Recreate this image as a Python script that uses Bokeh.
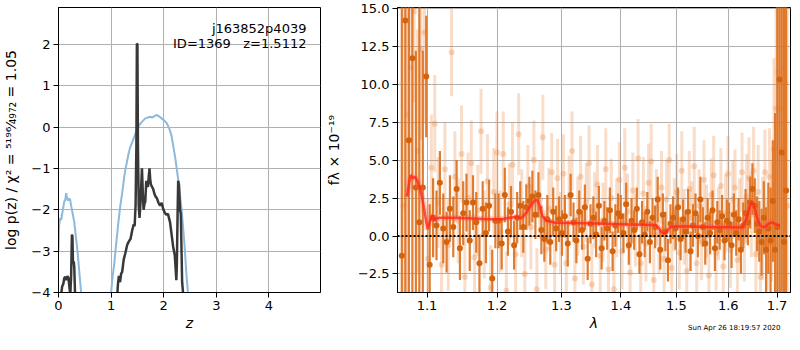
import numpy as np
from bokeh.plotting import figure
from bokeh.layouts import row
from bokeh.models import Range1d, FixedTicker, PrintfTickFormatter, Label, ColumnDataSource, Title
from bokeh.embed import file_html
from bokeh.resources import INLINE

FONT = "DejaVu Sans"

# ---------------- left panel: log p(z) ----------------
blue1_z = [0.0, 0.01, 0.03, 0.05, 0.07, 0.09, 0.11, 0.13, 0.145, 0.16, 0.18, 0.20, 0.22, 0.24,
           0.27, 0.30, 0.33, 0.365, 0.395, 0.43, 0.44]
blue1_v = [-3.0, -2.4, -2.2, -2.25, -2.1, -1.95, -1.8, -1.75, -1.6, -1.7, -1.78, -1.73, -1.75, -1.9,
           -2.1, -2.3, -2.65, -3.05, -3.5, -4.0, -4.2]
blue2_z = [0.99, 1.0, 1.03, 1.06, 1.09, 1.13, 1.17, 1.21, 1.25, 1.275, 1.30, 1.33, 1.36, 1.40, 1.45,
           1.52, 1.58, 1.65, 1.70, 1.74, 1.78, 1.83, 1.87, 1.91, 1.96, 2.01, 2.06, 2.11, 2.15,
           2.18, 2.22, 2.27, 2.34, 2.39, 2.43, 2.46, 2.47]
blue2_v = [-4.2, -4.0, -3.6, -3.3, -2.9, -2.4, -1.95, -1.6, -1.2, -1.0, -0.85, -0.65, -0.5, -0.37, -0.2,
           0.02, 0.12, 0.21, 0.23, 0.25, 0.23, 0.27, 0.29, 0.26, 0.21, 0.16, 0.09, -0.05, -0.22,
           -0.45, -0.75, -1.22, -1.99, -2.76, -3.53, -4.0, -4.2]
black1_z = [0.05, 0.07, 0.09, 0.11, 0.13, 0.15, 0.17, 0.19, 0.21, 0.225, 0.24, 0.255, 0.265,
            0.275, 0.29, 0.30, 0.315]
black1_v = [-4.05, -3.85, -3.8, -3.65, -3.62, -3.7, -3.6, -3.65, -3.9, -4.05, -3.6, -2.6, -2.65,
            -3.3, -3.25, -3.4, -4.05]
black2_z = [1.117, 1.13, 1.147, 1.17, 1.19, 1.21, 1.24, 1.27, 1.305, 1.335, 1.37, 1.40, 1.43, 1.447,
            1.465, 1.48, 1.49, 1.50, 1.51, 1.525, 1.54, 1.56, 1.586, 1.60, 1.617, 1.635, 1.65,
            1.668, 1.685, 1.70, 1.715, 1.73, 1.745, 1.76, 1.78, 1.80, 1.82, 1.84, 1.87, 1.90, 1.93,
            1.96, 1.99, 2.02, 2.05, 2.08, 2.12, 2.15, 2.18, 2.21, 2.24, 2.25, 2.265, 2.275, 2.29,
            2.31, 2.325, 2.35, 2.37]
black2_v = [-4.05, -3.8, -3.6, -3.75, -3.55, -3.5, -3.2, -3.05, -2.85, -2.77, -2.7, -2.5, -2.35, -2.4,
            -1.9, -0.5, 2.02, 2.0, -0.5, -1.9, -2.2, -1.8, -1.0, -1.5, -2.0, -1.85, -1.8,
            -1.3, -1.4, -1.45, -1.2, -1.0, -1.3, -1.4, -1.45, -1.5, -1.6, -1.67, -1.72, -1.83, -1.9,
            -1.83, -1.98, -2.07, -2.12, -2.1, -2.3, -2.6, -2.9, -3.1, -3.7, -3.3, -2.0, -1.3, -1.4,
            -2.0, -2.1, -3.75, -4.05]
left_xticks = [0, 1, 2, 3, 4]
left_yticks = [-4, -3, -2, -1, 0, 1, 2]
obj_name = "j163852p4039"
obj_info = "ID=1369\u00a0\u00a0\u00a0z=1.5112"

# ---------------- right panel: spectrum ----------------
dark_start, dark_step = 1.066, 0.0047
dark_flux = [-1.3, 14.2, 6.3, 11.7, 3.2, 0.9, 3.2, 10.5, -1.9,
             1.2, 0.7, 3.5, 0.5, -0.4, 1.8, 0.6, 3.1, -0.8, 1.5, 2.2, -0.3, 2.2, 0.9, -1.8, 1.8, 0.2, 2.0, -2.8, 1.0,
             1.0, -0.5, 2.7, 0.3, 1.6, -0.6, 1.2, 2.0, 0.6, 1.9, 2.3, 2.6, 1.4, 2.7, 0.4, -0.2, 1.1, -0.4, 1.6, 0.5, 1.1,
             0.2, 1.3, -0.5, 2.7, 0.9, -0.3, 1.6, 0.4, 1.9, -1.5, 0.8, 1.2, 0.1, 2.0, -0.8, 1.0, 0.5, 1.7, -1.0, 0.7, 1.5,
             1.3, 0.2, 2.1, -0.6, 1.0, 0.4, 1.8, -1.2, 0.9, 0.1, 1.6, -0.4, 1.2, 0.6, 2.4, -0.9, 1.4, 0.3, -1.6, 0.8, 1.2,
             0.5, 1.9, -0.2, 1.1, 0.3, 1.6, -1.0, 0.7, 1.5, 0.0, 2.4, 0.6, -0.5, 1.2, 0.2, 1.7, -0.8, 0.9, 0.4, 1.3, -0.3, 1.0,
             0.8, -0.6, 1.4, 0.2, 1.1, -0.9, 0.7, 1.5, 0.9, 2.2, 3.1, 2.0, 0.8,
             0.3, -0.4, 1.2, -0.9, 0.5, -0.3, 2.3, -0.9, 0.6, 10.3, 5.5, -0.4, 3.0]
dark_err = [25, 25, 25, 25, 9, 25, 9, 4, 4,
            2.6, 2.3, 2.1, 2.3, 2.0, 2.2, 2.0, 1.9, 2.1, 2.1, 1.9, 2.0, 1.8, 2.0, 1.9, 1.8, 2.0, 1.7, 1.9, 1.8,
            1.8, 1.7, 1.8, 1.6, 1.7, 1.6, 1.7, 1.6, 1.7, 1.5, 1.6, 1.7, 1.6, 1.5, 1.6, 1.5, 1.6, 1.5, 1.6, 1.5, 1.5,
            1.5, 1.4, 1.5, 1.4, 1.3, 1.5, 1.4, 1.3, 1.5, 1.4, 1.3, 1.4, 1.5, 1.3, 1.4, 1.3, 1.4, 1.5, 1.3, 1.4, 1.3,
            1.4, 1.3, 1.4, 1.3, 1.5, 1.3, 1.4, 1.3, 1.4, 1.5, 1.3, 1.4, 1.3, 1.4, 1.5, 1.3, 1.4, 1.3, 1.4, 1.3, 1.4,
            1.4, 1.3, 1.4, 1.3, 1.4, 1.5, 1.3, 1.4, 1.3, 1.4, 1.5, 1.3, 1.4, 1.3, 1.4, 1.3, 1.5, 1.4, 1.3, 1.4, 1.3, 1.4,
            1.4, 1.5, 1.4, 1.5, 1.4, 1.6, 1.5, 1.6, 1.5, 1.7, 1.7, 1.8, 1.8,
            2.0, 2.2, 2.4, 2.8, 3.0, 3.5, 4.0, 9.0, 20, 25, 25, 25, 25]

light_start, light_step = 1.0683, 0.0047
light_flux = [2.0, 8.0, 11.1, 14.8, 5.6, 12.3, 13.4,
              -1.5, 4.5, 7.4, 2.2, -1.9, 4.4, -0.6, 12.1, 3.9, 1.0, 5.4, -2.7, 2.5, 4.8, -1.4, 1.7, 6.9, 0.1, 3.6, -3.4, 2.9, 5.5,
              0.3, 5.4, -3.6, 2.1, 4.7, -1.2, 6.7, 1.5, -2.5, 3.3, 0.6, 5.0, -3.5, 2.4, 6.5, -0.9, 1.8, 4.2, -1.9, 3.8, 0.2,
              4.1, -1.8, 2.6, 5.6, -2.8, 1.3, 3.9, -0.7, 2.2, 4.8, -3.2, 1.7, 3.4, -1.3, 0.9, 4.4, -2.2, 2.5, -3.5, 1.2, 3.7,
              -1.0, 4.5, 1.6, -2.4, 3.0, 0.4, 5.1, -1.8, 2.8, -0.5, 3.5, 4.9, -2.9, 1.9, 0.1, 3.2, -1.5, 2.4, 5.0, -2.1, 1.4,
              2.9, -1.1, 4.3, 0.6, -2.3, 3.1, 1.2, 4.6, -1.8, 2.0, -0.4, 3.7, 1.0, -2.6, 2.7, 4.0, -1.1, 0.8, 3.3, -2.0, 1.5, 4.1,
              -0.9, 2.4, 3.2, -1.6, 1.1, 4.2, -0.3, 2.6, 3.8, 1.4, 4.3, -1.2, 2.9, -2.7, 0.5,
              4.2, -0.6, 3.9, 1.0, 5.7, 8.4, 10.8, 8.4, 11.1, 10.1, 2.0]
light_err = [15, 12, 8, 6, 8, 6, 6,
             4.0, 3.5, 3.2, 3.0, 2.9, 3.1, 3.0, 2.9, 3.0, 2.8, 3.2, 2.9, 3.0, 2.8, 2.9, 3.0, 2.8, 2.9, 3.1, 2.8, 2.9, 2.7,
             2.7, 2.8, 2.6, 2.7, 2.8, 2.6, 2.7, 2.9, 2.6, 2.7, 2.8, 2.6, 2.7, 2.6, 2.8, 2.6, 2.7, 2.6, 2.8, 2.6, 2.7,
             2.6, 2.5, 2.7, 2.6, 2.5, 2.6, 2.7, 2.5, 2.6, 2.5, 2.7, 2.5, 2.6, 2.5, 2.6, 2.7, 2.5, 2.6, 2.5, 2.6, 2.5,
             2.5, 2.6, 2.5, 2.6, 2.5, 2.4, 2.6, 2.5, 2.4, 2.5, 2.6, 2.5, 2.4, 2.5, 2.6, 2.4, 2.5, 2.6, 2.4, 2.5, 2.4,
             2.5, 2.4, 2.6, 2.5, 2.4, 2.5, 2.4, 2.6, 2.5, 2.4, 2.5, 2.6, 2.4, 2.5, 2.4, 2.6, 2.5, 2.4, 2.5, 2.4, 2.6, 2.5,
             2.5, 2.6, 2.5, 2.6, 2.7, 2.6, 2.7, 2.8, 2.7, 2.8, 2.9, 3.0, 3.1, 3.2, 3.4,
             2.8, 3.0, 3.2, 4.0, 6.0, 8.0, 10.0, 12.0, 12.0, 15.0, 20.0]

model_wave = [1.073, 1.076, 1.078, 1.081, 1.084, 1.087, 1.090, 1.093, 1.096, 1.099,
              1.101, 1.103, 1.106, 1.108, 1.110, 1.113, 1.117, 1.13, 1.15, 1.18,
              1.20, 1.21, 1.22, 1.23, 1.237, 1.245, 1.252, 1.258, 1.262, 1.266,
              1.270, 1.275, 1.282, 1.29, 1.32, 1.36, 1.40, 1.44, 1.462, 1.468,
              1.473, 1.478, 1.483, 1.488, 1.495, 1.52, 1.56, 1.60, 1.628, 1.636,
              1.642, 1.647, 1.651, 1.655, 1.660, 1.665, 1.670, 1.675, 1.680, 1.685,
              1.690, 1.695, 1.700, 1.706]
model_flux = [2.6, 3.6, 4.0, 3.8, 3.9, 3.6, 3.2, 2.6, 1.8, 0.9,
              0.45, 0.8, 1.3, 1.35, 1.0, 1.15, 1.2, 1.2, 1.18, 1.12,
              1.1, 1.12, 1.22, 1.25, 1.18, 1.55, 2.05, 2.35, 2.35, 1.9,
              1.3, 1.05, 0.95, 0.88, 0.86, 0.82, 0.78, 0.74, 0.72, 0.5,
              0.25, 0.15, 0.35, 0.58, 0.62, 0.62, 0.6, 0.58, 0.56, 1.1,
              1.8, 2.25, 2.1, 1.6, 1.05, 0.7, 0.58, 0.62, 0.75, 0.85,
              0.9, 0.82, 0.75, 0.7]
right_xticks = [1.1, 1.2, 1.3, 1.4, 1.5, 1.6, 1.7]
right_yticks = [-2.5, 0.0, 2.5, 5.0, 7.5, 10.0, 12.5, 15.0]
timestamp = "Sun Apr 26 18:19:57 2020"


def style(p):
    p.background_fill_color = "white"
    p.border_fill_color = "white"
    p.outline_line_color = "black"
    p.outline_line_width = 1
    p.outline_line_alpha = 1
    p.grid.grid_line_color = "#b0b0b0"
    p.grid.grid_line_width = 1
    for ax in p.axis:
        ax.axis_line_color = "black"
        ax.major_tick_line_color = "black"
        ax.major_tick_out = 5
        ax.major_tick_in = 0
        ax.minor_tick_line_color = None
        ax.major_label_text_font = FONT
        ax.major_label_text_font_size = "13px"
        ax.major_label_text_color = "black"
        ax.axis_label_text_font = FONT
        ax.axis_label_text_font_size = "14px"
        ax.axis_label_text_color = "black"
        ax.major_label_standoff = 3
        ax.axis_label_standoff = 2


# ---- left figure ----
p1 = figure(width=322, height=334, x_range=Range1d(0, 4.98), y_range=Range1d(-4, 2.89),
            output_backend="svg", toolbar_location=None,
            min_border_left=54, min_border_right=2, min_border_top=7, min_border_bottom=42)
style(p1)
p1.xaxis.ticker = FixedTicker(ticks=left_xticks)
p1.yaxis.ticker = FixedTicker(ticks=left_yticks)
p1.yaxis.major_label_overrides = {t: ("\u2212" + str(abs(t)) if t < 0 else str(t)) for t in left_yticks}
p1.xaxis.axis_label = "z"
p1.xaxis.axis_label_text_font_style = "italic"
p1.yaxis.axis_label = "log p(z) / \u03c7\u00b2 = \u2075\u00b9\u2079\u2076\u2044\u2084\u2089\u2087\u2082 = 1.05"
p1.yaxis.axis_label_text_font_style = "normal"
p1.yaxis.axis_label_standoff = 9

p1.line(blue1_z, blue1_v, line_color="#8cb9dc", line_width=2)
p1.line(blue2_z, blue2_v, line_color="#8cb9dc", line_width=2)
p1.line(black1_z, black1_v, line_color="#383838", line_width=2.5)
p1.line(black2_z, black2_v, line_color="#383838", line_width=2.5)

p1.add_layout(Label(x=4.713, y=2.39, text=obj_name, text_align="right", text_baseline="alphabetic",
                    text_font=FONT, text_font_size="13px", text_color="black"))
p1.add_layout(Label(x=4.713, y=2.03, text=obj_info, text_align="right", text_baseline="alphabetic",
                    text_font=FONT, text_font_size="13px", text_color="black"))

# ---- right figure ----
p2 = figure(width=470, height=334, x_axis_type="log", x_range=Range1d(1.0603, 1.7287),
            y_range=Range1d(-3.72, 15.05), output_backend="svg", toolbar_location=None,
            min_border_left=69, min_border_right=2, min_border_top=7, min_border_bottom=42)
style(p2)
p2.xaxis.ticker = FixedTicker(ticks=right_xticks)
p2.xaxis.formatter = PrintfTickFormatter(format="%.1f")
p2.yaxis.ticker = FixedTicker(ticks=right_yticks)
p2.yaxis.formatter = PrintfTickFormatter(format="%.1f")
p2.yaxis.major_label_overrides = {-2.5: "\u22122.5"}
p2.xaxis.axis_label = "\u03bb"
p2.xaxis.axis_label_text_font_style = "italic"
p2.yaxis.axis_label = "f\u03bb \u00d7 10\u207b\u00b9\u2079"
p2.yaxis.axis_label_text_font_style = "normal"
p2.yaxis.axis_label_standoff = 13

lw = light_start + light_step * np.arange(len(light_flux))
lf = np.array(light_flux)
le = np.array(light_err)
src_l = ColumnDataSource(dict(w=lw, f=lf, lo=lf - le, hi=lf + le))
dw = dark_start + dark_step * np.arange(len(dark_flux))
df = np.array(dark_flux)
de = np.array(dark_err)
src_d = ColumnDataSource(dict(w=dw, f=df, lo=df - de, hi=df + de))

p2.segment(x0="w", y0="lo", x1="w", y1="hi", source=src_l, line_color="#e8843c", line_alpha=0.28, line_width=3)
p2.scatter(x="w", y="f", source=src_l, size=6, fill_color="#e8843c", fill_alpha=0.3, line_color=None)
p2.segment(x0="w", y0="lo", x1="w", y1="hi", source=src_d, line_color="#de7424", line_alpha=0.95, line_width=2.2)
p2.scatter(x="w", y="f", source=src_d, size=6, fill_color="#d4630e", line_color=None)

p2.line(model_wave, model_flux, line_color="#ff5a50", line_alpha=0.3, line_width=6)
p2.line(model_wave, model_flux, line_color="#ff2a14", line_alpha=0.8, line_width=2.5)

p2.line([1.0603, 1.7287], [0, 0], line_color="black", line_width=2, line_dash="2 2")

p2.add_layout(Title(text=timestamp, align="right", vertical_align="top", text_font=FONT,
                    text_font_size="7px", text_font_style="normal", text_color="black",
                    standoff=-20, offset=10), "below")

layout = row(p1, p2)
open("out.html", "w").write(file_html(layout, INLINE))
